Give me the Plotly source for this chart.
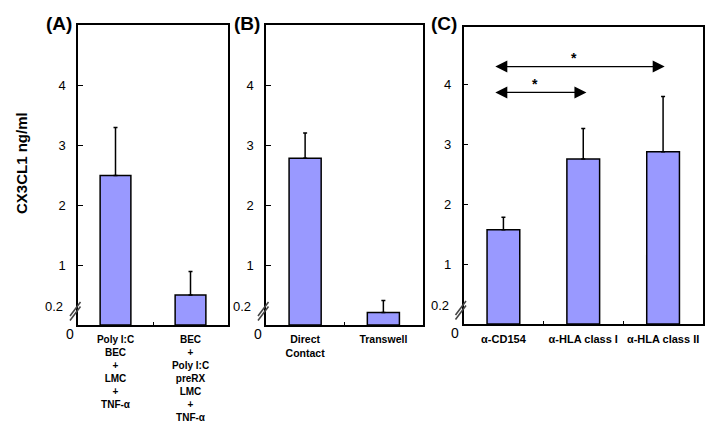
import plotly.graph_objects as go

# ---------------- data ----------------
a_labels = ["Poly I:C\nBEC\n+\nLMC\n+\nTNF-α", "BEC\n+\nPoly I:C\npreRX\nLMC\n+\nTNF-α"]
a_values = [2.49, 0.50]
a_errors = [0.80, 0.39]

b_labels = ["Direct\nContact", "Transwell"]
b_values = [2.78, 0.21]
b_errors = [0.42, 0.20]

c_labels = ["α-CD154", "α-HLA class I", "α-HLA class II"]
c_values = [1.57, 2.75, 2.87]
c_errors = [0.21, 0.51, 0.92]

y_ticks = [1, 2, 3, 4]
panel_titles = ["(A)", "(B)", "(C)"]
y_title = "CX3CL1 ng/ml"
# significance comparisons in panel C: (from index, to index, height)
c_comparisons = [(0, 2, 4.29, "*"), (0, 1, 3.86, "*")]

# ---------------- layout helpers ----------------
OFF = 8  # page body margin
W, H = 714 - OFF, 434 - OFF
FONT = "Liberation Sans, Arial, sans-serif"
BAR = "#9999FF"


def px(x):
    return (x - OFF) / W


def py(y):
    return 1 - (y - OFF) / H


def fmt(lbl):
    return "<b>" + lbl.replace("\n", "<br>") + "</b>"


panels = [
    dict(labels=a_labels, values=a_values, errors=a_errors, x0=78, x1=228, top=25, bot=325, lab=10, yr=5.0),
    dict(labels=b_labels, values=b_values, errors=b_errors, x0=266, x1=422.5, top=25, bot=325, lab=10.5, yr=5.0),
    dict(labels=c_labels, values=c_values, errors=c_errors, x0=463.5, x1=703, top=27, bot=324, lab=11, yr=4.95),
]

fig = go.Figure()
layout = dict(
    width=W, height=H,
    margin=dict(l=0, r=0, t=0, b=0, autoexpand=False),
    paper_bgcolor="white", plot_bgcolor="white",
    showlegend=False,
    font=dict(family=FONT, color="black"),
)
annotations = []
shapes = []

for i, p in enumerate(panels):
    n = i + 1
    xa = "x" if n == 1 else f"x{n}"
    ya = "y" if n == 1 else f"y{n}"
    cats = [fmt(l) for l in p["labels"]]
    fig.add_trace(go.Bar(
        x=cats, y=p["values"], xaxis=xa, yaxis=ya,
        marker=dict(color=BAR, line=dict(color="black", width=1.5)),
        width=0.41,
        error_y=dict(type="data", array=p["errors"], arrayminus=[0] * len(p["errors"]),
                     symmetric=False, color="black", thickness=1.5, width=2),
    ))
    axis_common = dict(showline=True, linecolor="black", linewidth=1.5, mirror=True,
                       showgrid=False, zeroline=False, automargin=False)
    layout["xaxis" if n == 1 else f"xaxis{n}"] = dict(
        domain=[px(p["x0"]), px(p["x1"])], anchor=ya,
        type="category", range=[-0.5, len(cats) - 0.5],
        ticks="inside", ticklen=3, tickcolor="black", tickson="boundaries",
        tickangle=0,
        tickfont=dict(size=p["lab"], family=FONT, color="black"),
        ticklabelstandoff=4,
        **axis_common,
    )
    layout["yaxis" if n == 1 else f"yaxis{n}"] = dict(
        domain=[py(p["bot"]), py(p["top"])], anchor=xa,
        range=[0, p["yr"]], tickvals=y_ticks, ticktext=[str(t) for t in y_ticks],
        ticks="inside", ticklen=5, tickcolor="black",
        tickfont=dict(size=13, family=FONT, color="black"),
        ticklabelstandoff=8,
        **axis_common,
    )
    # panel title
    annotations.append(dict(text="<b>" + panel_titles[i] + "</b>", xref="paper", yref="paper",
                            x=px(p["x0"] - 19), y=py(24), xanchor="center", yanchor="middle",
                            showarrow=False, font=dict(size=19, family=FONT)))
    # "0.2" and "0" labels for the broken axis
    annotations.append(dict(text="0.2", xref="paper", yref="paper",
                            x=px(p["x0"] - 13), y=py(p["bot"] - 19), xanchor="right", yanchor="middle",
                            showarrow=False, font=dict(size=13, family=FONT)))
    annotations.append(dict(text="0", xref="paper", yref="paper",
                            x=px(p["x0"] - 8), y=py(p["bot"] + 9), xanchor="center", yanchor="middle",
                            showarrow=False, font=dict(size=14, family=FONT)))
    # axis break marks
    for off in (0, 4.5):
        yb = p["bot"] - 9 + off
        shapes.append(dict(type="line", xref="paper", yref="paper",
                           x0=px(p["x0"] - 8), y0=py(yb), x1=px(p["x0"] + 2.5), y1=py(yb - 14),
                           line=dict(color="#444444", width=1.5)))

# y-axis title
annotations.append(dict(text="<b>" + y_title + "</b>", xref="paper", yref="paper",
                        x=px(21), y=py(163), textangle=-90, showarrow=False,
                        xanchor="center", yanchor="middle", font=dict(size=15, family=FONT)))

# significance arrows in panel C
for i0, i1, h, star in c_comparisons:
    xs = i0 - 0.12
    xe = i1 + 0.02 if i1 == 2 else i1 + 0.04
    annotations.append(dict(text="", x=xe, y=h, ax=xs, ay=h, xref="x3", yref="y3",
                            axref="x3", ayref="y3", showarrow=True, arrowside="end+start",
                            arrowhead=2, arrowsize=2.0, arrowwidth=1.2, arrowcolor="black"))
    annotations.append(dict(text="<b>" + star + "</b>", x=(xs + xe) / 2 - 0.06, y=h - 0.03,
                            xref="x3", yref="y3", showarrow=False, yanchor="bottom",
                            font=dict(size=14, family=FONT)))

layout["annotations"] = annotations
layout["shapes"] = shapes
fig.update_layout(**layout)
fig.write_html("out.html")
